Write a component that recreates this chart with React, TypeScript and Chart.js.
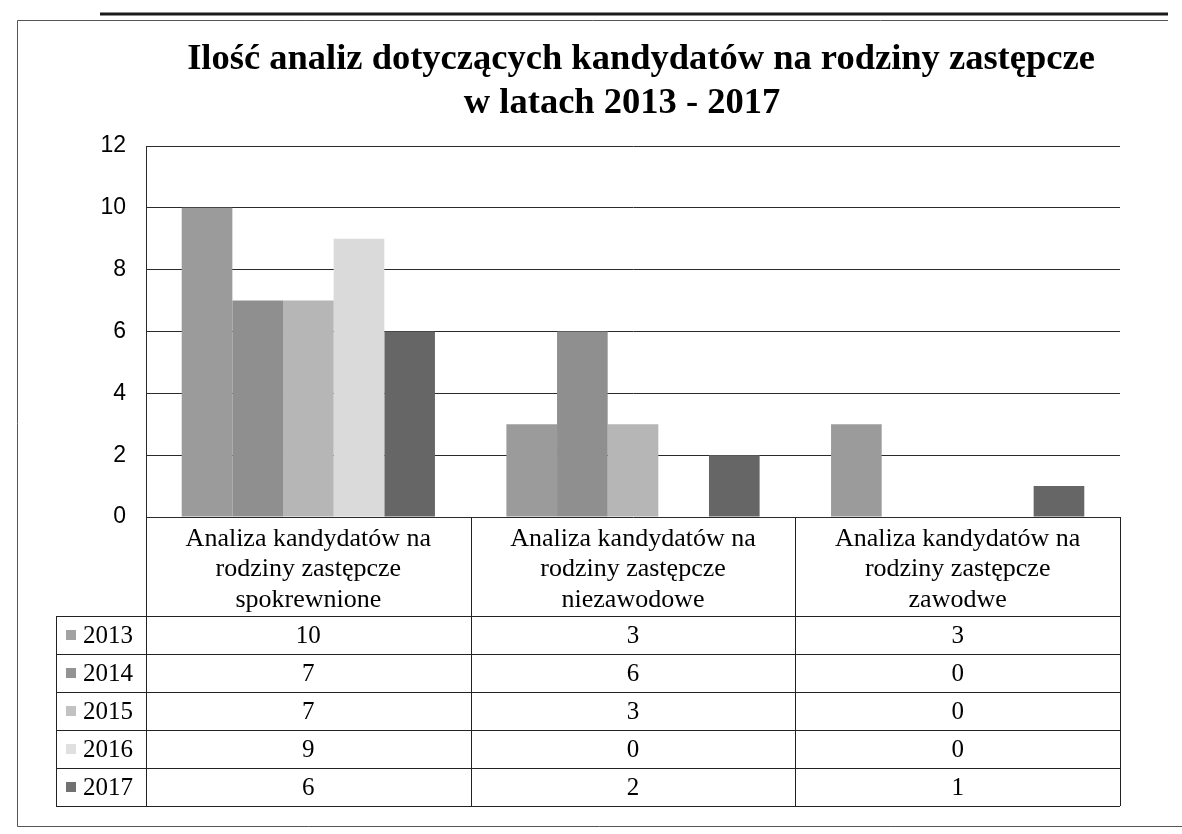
import React, { useEffect, useRef } from "react";
import { Chart, registerables } from "chart.js";

Chart.register(...registerables);

const titleLines = [
  "Ilość analiz dotyczących kandydatów na rodziny zastępcze",
  "w latach 2013 - 2017",
];

const categoryLabels = [
  ["Analiza kandydatów na", "rodziny zastępcze", "spokrewnione"],
  ["Analiza kandydatów na", "rodziny zastępcze", "niezawodowe"],
  ["Analiza kandydatów na", "rodziny zastępcze", "zawodwe"],
];

const seriesNames = ["2013", "2014", "2015", "2016", "2017"];
const values2013 = [10, 3, 3];
const values2014 = [7, 6, 0];
const values2015 = [7, 3, 0];
const values2016 = [9, 0, 0];
const values2017 = [6, 2, 1];
const seriesValues = [values2013, values2014, values2015, values2016, values2017];
const seriesColors = ["#9b9b9b", "#8f8f8f", "#b6b6b6", "#dadada", "#666666"];
const legendColors = ["#a2a2a2", "#939393", "#c2c2c2", "#e0e0e0", "#717171"];

const yMin = 0;
const yMax = 12;
const yStep = 2;

const W = 1182;
const H = 834;

const tablePlugin = {
  id: "tableAndFrame",
  beforeDraw(chart: any) {
    const ctx = chart.ctx;
    ctx.save();
    ctx.fillStyle = "#ffffff";
    ctx.fillRect(0, 0, chart.width, chart.height);
    ctx.restore();
  },
  afterDraw(chart: any) {
    const ctx = chart.ctx;
    const { left, right, bottom } = chart.chartArea;
    const xs = chart.scales.x;
    const n = categoryLabels.length;
    const colW = xs.getPixelForValue(1) - xs.getPixelForValue(0);
    const headerBottom = bottom + 99;
    const rowH = 38;
    const tableLeft = 56;
    const tableBottom = headerBottom + rowH * seriesNames.length;

    ctx.save();
    // frame
    ctx.strokeStyle = "#1a1a1a";
    ctx.lineWidth = 3;
    ctx.beginPath();
    ctx.moveTo(100, 14);
    ctx.lineTo(1168, 14);
    ctx.stroke();
    ctx.lineWidth = 1;
    ctx.strokeStyle = "#555";
    ctx.beginPath();
    ctx.moveTo(17.5, 20.5);
    ctx.lineTo(1168, 20.5);
    ctx.moveTo(17.5, 20.5);
    ctx.lineTo(17.5, 826.5);
    ctx.lineTo(1182, 826.5);
    ctx.stroke();

    // title
    ctx.fillStyle = "#000";
    ctx.textAlign = "center";
    ctx.textBaseline = "alphabetic";
    ctx.font = "bold 36.5px 'Liberation Serif', 'Times New Roman', serif";
    ctx.fillText(titleLines[0], 641, 69);
    ctx.fillText(titleLines[1], 622, 113);

    // table lines
    ctx.textBaseline = "middle";
    ctx.strokeStyle = "#222";
    ctx.lineWidth = 1;
    ctx.beginPath();
    ctx.moveTo(left + 0.5, bottom);
    ctx.lineTo(left + 0.5, tableBottom);
    for (let i = 0; i < n; i++) {
      const xr = Math.round(xs.getPixelForValue(i) + colW / 2) + 0.5;
      ctx.moveTo(xr, bottom);
      ctx.lineTo(xr, tableBottom);
    }
    for (let r = 0; r <= seriesNames.length; r++) {
      const y = Math.round(headerBottom + r * rowH) + 0.5;
      ctx.moveTo(tableLeft, y);
      ctx.lineTo(right, y);
    }
    ctx.moveTo(tableLeft + 0.5, headerBottom);
    ctx.lineTo(tableLeft + 0.5, tableBottom);
    ctx.stroke();

    // header labels
    ctx.font = "26px 'Liberation Serif', 'Times New Roman', serif";
    ctx.textAlign = "center";
    ctx.fillStyle = "#000";
    for (let i = 0; i < n; i++) {
      const cx = xs.getPixelForValue(i);
      categoryLabels[i].forEach((line, k) => {
        ctx.fillText(line, cx, bottom + 22 + k * 30.5);
      });
    }

    // rows
    ctx.font = "25px 'Liberation Serif', 'Times New Roman', serif";
    for (let r = 0; r < seriesNames.length; r++) {
      const cy = headerBottom + r * rowH + rowH / 2;
      ctx.fillStyle = legendColors[r];
      ctx.fillRect(tableLeft + 10, cy - 5, 10, 10);
      ctx.fillStyle = "#000";
      ctx.textAlign = "left";
      ctx.fillText(seriesNames[r], tableLeft + 27, cy + 1);
      ctx.textAlign = "center";
      for (let i = 0; i < n; i++) {
        ctx.fillText(String(seriesValues[r][i]), xs.getPixelForValue(i), cy + 1);
      }
    }
    ctx.restore();
  },
};

export default function App() {
  const canvasRef = useRef<HTMLCanvasElement | null>(null);

  useEffect(() => {
    const canvas = canvasRef.current;
    if (!canvas) return;
    const chart = new Chart(canvas, {
      type: "bar",
      data: {
        labels: categoryLabels.map((l) => l.join(" ")),
        datasets: seriesNames.map((name, i) => ({
          label: name,
          data: seriesValues[i],
          backgroundColor: seriesColors[i],
          borderWidth: 0,
          categoryPercentage: 0.78,
          barPercentage: 1,
        })),
      },
      plugins: [tablePlugin],
      options: {
        responsive: false,
        animation: false,
        devicePixelRatio: 1,
        layout: { padding: { left: 0, right: W - 1120, top: 146, bottom: H - 517 } },
        plugins: {
          legend: { display: false },
          title: { display: false },
          tooltip: { enabled: false },
        },
        scales: {
          x: { display: false },
          y: {
            min: yMin,
            max: yMax,
            afterFit: (scale: any) => {
              scale.width = 146;
            },
            ticks: {
              stepSize: yStep,
              padding: 20,
              color: "#000",
              font: { family: "'Liberation Sans', Arial, sans-serif", size: 23 },
            },
            grid: { color: "#2a2a2a", lineWidth: 1, drawTicks: false },
            border: { display: true, color: "#2a2a2a", width: 1 },
          },
        },
      },
    });
    return () => chart.destroy();
  }, []);

  return (
    <div style={{ position: "absolute", left: 0, top: 0, width: W, height: H, background: "#fff" }}>
      <canvas ref={canvasRef} width={W} height={H} style={{ width: W, height: H, display: "block" }} />
    </div>
  );
}
